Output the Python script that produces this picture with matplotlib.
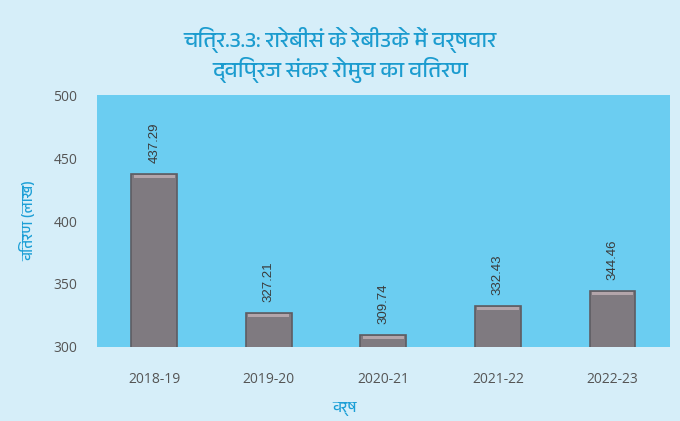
import numpy as np
import matplotlib.pyplot as plt
from matplotlib import font_manager

# pick a font with Devanagari glyphs if one is around
deva = [f.name for f in font_manager.fontManager.ttflist
        if 'devanagari' in f.name.lower() or 'lohit' in f.name.lower()
        or 'mukta' in f.name.lower() or 'mangal' in f.name.lower()]
plt.rcParams['font.family'] = deva[:1] + ['Noto Sans', 'DejaVu Sans']

years = ['2018-19', '2019-20', '2020-21', '2021-22', '2022-23']
values = [437.29, 327.21, 309.74, 332.43, 344.46]
yticks = [300, 350, 400, 450, 500]

title = 'चित्र.3.3: रारेबीसं के रेबीउके में वर्षवार\nद्विप्रज संकर रोमुच का वितरण'
ylabel = 'वितरण (लाख)'
xlabel = 'वर्ष'

fig = plt.figure(figsize=(6.8, 4.21), dpi=100)
fig.patch.set_facecolor('#d6eef9')
ax = fig.add_axes([0.1426, 0.176, 0.8424, 0.598])
ax.set_facecolor('#6bcdf1')

x = np.arange(len(years))
ax.bar(x, values, width=0.4, bottom=0, color='#7f7a80',
       edgecolor='#5e5c62', linewidth=1.2, zorder=2)
# lighter cap on each bar
ax.bar(x, [2.5] * len(values), width=0.36, bottom=np.array(values) - 3.5,
       color='#b3a5aa', linewidth=0, zorder=3)

for xi, v in zip(x, values):
    ax.annotate(f'{v:.2f}', (xi, v), xytext=(0, 8), textcoords='offset points',
                rotation=90, ha='center', va='bottom', fontsize=9.5,
                color='#3a3a3a', family='Liberation Sans')

ax.set_ylim(300, 500)
ax.set_xlim(-0.5, len(years) - 0.5)
ax.set_yticks(yticks)
ax.set_xticks(x)
ax.set_xticklabels(years)
ax.tick_params(length=0, colors='#555555', labelsize=10)
for lbl in ax.get_xticklabels() + ax.get_yticklabels():
    lbl.set_family('Open Sans')
ax.tick_params(axis='y', pad=14)
ax.tick_params(axis='x', pad=18)
for s in ax.spines.values():
    s.set_visible(False)

ax.set_ylabel(ylabel, color='#1c9fd6', fontsize=11, fontweight='bold', labelpad=12)
fig.text(0.507, 0.012, xlabel, color='#1c9fd6', fontsize=11, fontweight='bold',
         ha='center', va='bottom')
fig.text(0.5, 0.935, title, color='#1c9ccf', fontsize=16, fontweight='bold',
         ha='center', va='top', linespacing=1.2)

fig.savefig('out.png', dpi=100, facecolor=fig.get_facecolor())
